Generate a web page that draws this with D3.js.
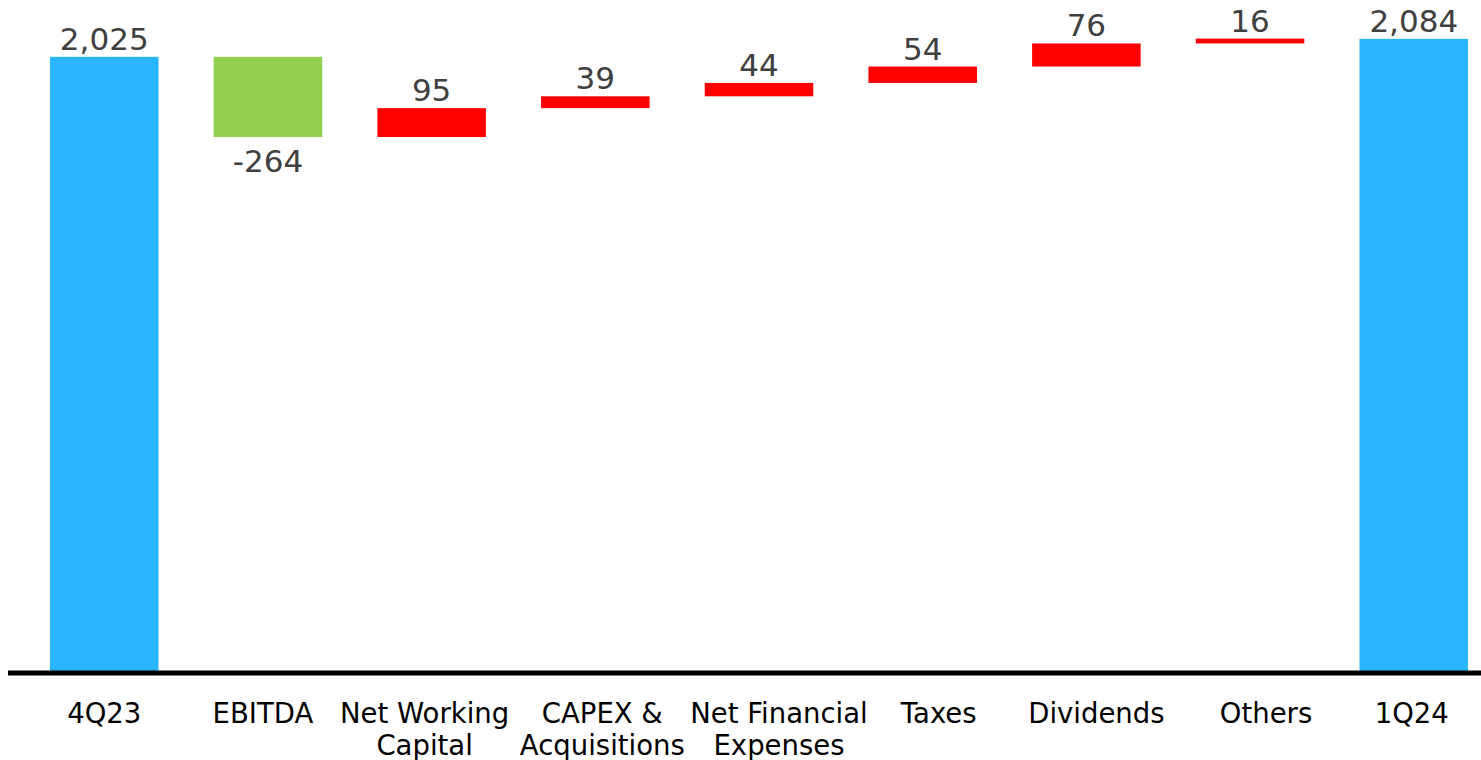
<!DOCTYPE html>
<html lang="en">
<head>
  <meta charset="UTF-8">
  <style>
    html, body { margin: 0; padding: 0; background: #fff; }
    svg { display: block; }
  </style>
  <script src="https://d3js.org/d3.v7.min.js"></script>
</head>
<body>
  <svg id="chart" width="1481" height="760"></svg>

  <script>
    // categories (multi-line labels split by \n)
    const categories = ["4Q23", "EBITDA", "Net Working\nCapital", "CAPEX &\nAcquisitions",
                        "Net Financial\nExpenses", "Taxes", "Dividends", "Others", "1Q24"];
    const startValue = 2025;
    const deltas = [-264, 95, 39, 44, 54, 76, 16];
    const endValue = 2084;
    const valueLabels = ["2,025", "-264", "95", "39", "44", "54", "76", "16", "2,084"];

    // category labels in the original sit a little off the bar centres
    const labelShift = [0, -5, -7, 7, 20, 16, 10, 16, -2];

    const svg = d3.select("#chart");
    const width = 1481;
    const baseY = 672;

    // build waterfall rows
    const rows = [];
    rows.push({ cat: categories[0], y0: 0, y1: startValue, kind: "total", label: valueLabels[0] });
    let running = startValue;
    deltas.forEach((d, i) => {
      const from = running;
      running += d;
      rows.push({ cat: categories[i + 1], y0: from, y1: running,
                  kind: d < 0 ? "down" : "up", label: valueLabels[i + 1] });
    });
    rows.push({ cat: categories[8], y0: 0, y1: endValue, kind: "total", label: valueLabels[8] });

    const x = d3.scaleBand()
      .domain(categories)
      .range([22.4, 1495.6])
      .paddingInner(0.337)
      .paddingOuter(0.1685);

    const y = d3.scaleLinear().domain([0, 2212]).range([baseY, 0]);

    const colors = { total: "#29b6ff", down: "#92d050", up: "#ff0000" };

    svg.selectAll("rect.bar")
      .data(rows)
      .enter()
      .append("rect")
      .attr("class", "bar")
      .attr("x", d => x(d.cat))
      .attr("width", x.bandwidth())
      .attr("y", d => y(Math.max(d.y0, d.y1)))
      .attr("height", d => Math.abs(y(d.y0) - y(d.y1)))
      .attr("fill", d => colors[d.kind]);

    // value labels
    svg.selectAll("text.val")
      .data(rows)
      .enter()
      .append("text")
      .attr("class", "val")
      .attr("x", d => x(d.cat) + x.bandwidth() / 2)
      .attr("y", d => d.kind === "down"
        ? y(Math.min(d.y0, d.y1)) + 35
        : y(Math.max(d.y0, d.y1)) - 7)
      .attr("text-anchor", "middle")
      .attr("font-family", "'DejaVu Sans', Verdana, sans-serif")
      .attr("font-size", "31px")
      .attr("fill", "#404040")
      .text(d => d.label);

    // baseline
    svg.append("line")
      .attr("x1", 8)
      .attr("x2", width)
      .attr("y1", baseY + 1)
      .attr("y2", baseY + 1)
      .attr("stroke", "#000")
      .attr("stroke-width", 5);

    // category labels
    const cats = svg.selectAll("text.cat")
      .data(categories)
      .enter()
      .append("text")
      .attr("class", "cat")
      .attr("text-anchor", "middle")
      .attr("font-family", "'DejaVu Sans', Verdana, sans-serif")
      .attr("font-size", "27.5px")
      .attr("fill", "#000");

    cats.each(function(c, i) {
      const lines = c.split("\n");
      const t = d3.select(this);
      lines.forEach((ln, j) => {
        t.append("tspan")
          .attr("x", x(c) + x.bandwidth() / 2 + labelShift[i])
          .attr("y", 723 + j * 32)
          .text(ln);
      });
    });
  </script>
</body>
</html>
